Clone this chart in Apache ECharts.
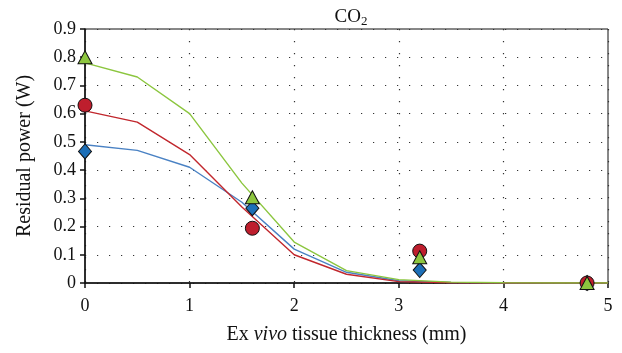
<!DOCTYPE html>
<html><head><meta charset="utf-8">
<script src="https://cdn.jsdelivr.net/npm/echarts@6/dist/echarts.min.js"></script>
<style>html,body{margin:0;padding:0;background:#fff}#c{width:622px;height:353px}</style>
</head><body><div id="c"></div>
<script>
var xLine = [0, 0.5, 1, 1.5, 2, 2.5, 3, 3.5, 4, 4.5, 5];
var greenLine = [0.78, 0.73, 0.60, 0.354, 0.145, 0.044, 0.012, 0.003, 0.001, 0, 0];
var redLine = [0.61, 0.57, 0.455, 0.269, 0.10, 0.031, 0.005, 0.001, 0, 0, 0];
var blueLine = [0.49, 0.47, 0.41, 0.286, 0.12, 0.038, 0.008, 0.002, 0, 0, 0];
var xMeas = [0, 1.6, 3.2, 4.8];
var greenMeas = [0.80, 0.304, 0.091, 0.0];
var redMeas = [0.63, 0.194, 0.113, 0.0];
var blueMeas = [0.466, 0.265, 0.046, 0.0];

function pairs(xs, ys) { return xs.map(function (x, i) { return [x, ys[i]]; }); }
var FONT = 'Liberation Serif';
var chart = echarts.init(document.getElementById('c'), null, {renderer: 'canvas'});
var dotted = {show: true, lineStyle: {color: '#333', width: 1.2, type: [1.2, 10.8]}};
chart.setOption({
  animation: false,
  title: {text: 'CO{s|2}', left: 346, top: 1, textAlign: 'center',
    textStyle: {fontFamily: FONT, fontSize: 19, fontWeight: 'normal', color: '#111',
      rich: {s: {fontFamily: FONT, fontSize: 13, verticalAlign: 'bottom', padding: [9, 0, 0, 0], color: '#111'}}}},
  grid: {left: 85, right: 14, top: 29, bottom: 70, show: true, borderColor: '#111', borderWidth: 1,
    containLabel: false, outerBoundsMode: 'none'},
  xAxis: {type: 'value', min: 0, max: 5, interval: 1,
    name: 'Ex {i|vivo} tissue thickness (mm)', nameLocation: 'middle', nameGap: 42,
    nameTextStyle: {fontFamily: FONT, fontSize: 20, color: '#111',
      rich: {i: {fontFamily: FONT, fontSize: 20, fontStyle: 'italic', color: '#111'}}},
    axisLine: {show: true, onZero: false, lineStyle: {color: '#111', width: 1.5}},
    axisTick: {show: true, length: 5, lineStyle: {color: '#111', width: 1.5}},
    axisLabel: {fontFamily: FONT, fontSize: 18, color: '#111', margin: 14},
    splitLine: dotted},
  yAxis: {type: 'value', min: 0, max: 0.9, interval: 0.1,
    name: 'Residual power (W)', nameLocation: 'middle', nameGap: 50,
    nameTextStyle: {fontFamily: FONT, fontSize: 20, color: '#111'},
    axisLine: {show: true, onZero: false, lineStyle: {color: '#111', width: 1.5}},
    axisTick: {show: true, length: 5, lineStyle: {color: '#111', width: 1.5}},
    axisLabel: {fontFamily: FONT, fontSize: 18, color: '#111', margin: 9},
    splitLine: dotted},
  series: [
    {type: 'line', data: pairs(xLine, blueLine), symbol: 'none', lineStyle: {color: '#4a82c4', width: 1.4}, z: 2},
    {type: 'line', data: pairs(xLine, redLine), symbol: 'none', lineStyle: {color: '#c1272d', width: 1.4}, z: 2},
    {type: 'line', data: pairs(xLine, greenLine), symbol: 'none', lineStyle: {color: '#8cc63f', width: 1.4}, z: 2},
    {type: 'scatter', data: pairs(xMeas, blueMeas), symbol: 'diamond', symbolSize: [13, 15],
      itemStyle: {color: '#1c6fb8', borderColor: '#111', borderWidth: 1, opacity: 1}, z: 3},
    {type: 'scatter', data: pairs(xMeas, redMeas), symbol: 'circle', symbolSize: 14,
      itemStyle: {color: '#be1e2d', borderColor: '#111', borderWidth: 1, opacity: 1}, z: 4},
    {type: 'scatter', data: pairs(xMeas, greenMeas), symbol: 'triangle', symbolSize: [14, 13],
      itemStyle: {color: '#8dc63f', borderColor: '#111', borderWidth: 1, opacity: 1}, z: 5}
  ]
});
</script></body></html>
